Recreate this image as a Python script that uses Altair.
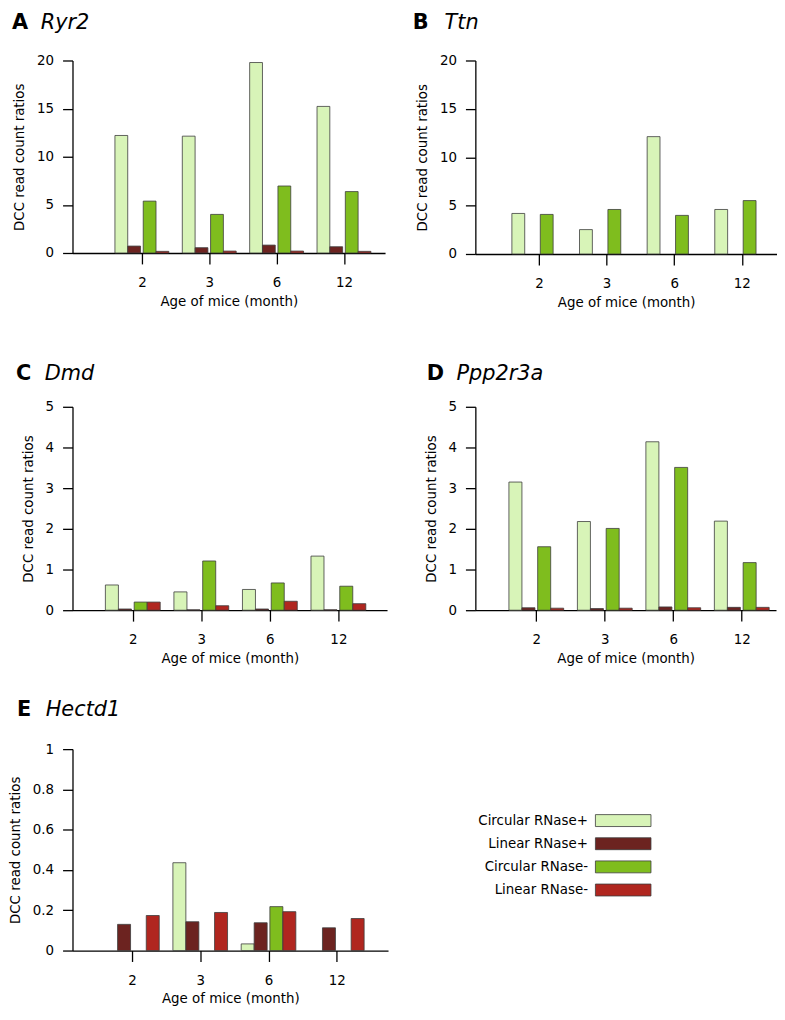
import json
import pandas as pd
import altair as alt

# ---------------- data ----------------
AGES = ["2", "3", "6", "12"]
SERIES = ["Circular RNase+", "Linear RNase+", "Circular RNase-", "Linear RNase-"]
COLORS = ["#d8f4b8", "#6c2320", "#7fbd1e", "#b0261f"]

RYR2_CIRC_POS = [12.21, 12.14, 19.79, 15.23]
RYR2_LIN_POS = [0.72, 0.55, 0.82, 0.65]
RYR2_CIRC_NEG = [5.39, 4.01, 6.96, 6.38]
RYR2_LIN_NEG = [0.17, 0.20, 0.20, 0.17]

TTN_CIRC_POS = [4.19, 2.52, 12.13, 4.60]
TTN_LIN_POS = [0, 0, 0, 0]
TTN_CIRC_NEG = [4.09, 4.60, 3.99, 5.52]
TTN_LIN_NEG = [0, 0, 0, 0]

DMD_CIRC_POS = [0.62, 0.45, 0.51, 1.33]
DMD_LIN_POS = [0.03, 0.01, 0.03, 0.01]
DMD_CIRC_NEG = [0.20, 1.21, 0.67, 0.59]
DMD_LIN_NEG = [0.20, 0.11, 0.22, 0.16]

PPP_CIRC_POS = [3.15, 2.18, 4.14, 2.19]
PPP_LIN_POS = [0.06, 0.04, 0.08, 0.07]
PPP_CIRC_NEG = [1.56, 2.01, 3.51, 1.17]
PPP_LIN_NEG = [0.05, 0.05, 0.06, 0.07]

HEC_CIRC_POS = [0, 0.436, 0.033, 0]
HEC_LIN_POS = [0.130, 0.143, 0.138, 0.113]
HEC_CIRC_NEG = [0, 0, 0.218, 0]
HEC_LIN_NEG = [0.174, 0.189, 0.193, 0.159]

# ---------------- style ----------------
FONT = "DejaVu Sans"
FS = 13.5
BAR_START = [-0.40, -0.21, 0.02, 0.21]   # bar left edge relative to tick, in group units
BAR_W = 0.19


def panel(letter, gene, series_vals, ymax, yvals, xdom, w, h, tdx, tdy, gdx):
    rows = []
    for si, (s, vals) in enumerate(zip(SERIES, series_vals)):
        for ai, v in enumerate(vals):
            rows.append({"pos": ai + 1, "series": s, "sidx": si, "value": v})
    df = pd.DataFrame(rows)
    start = json.dumps(BAR_START)
    bars = (
        alt.Chart(df)
        .transform_filter("datum.value > 0")
        .transform_calculate(
            x0=f"datum.pos + {start}[datum.sidx]",
            x1=f"datum.pos + {start}[datum.sidx] + {BAR_W}",
        )
        .mark_rect(stroke="#3c3c3c", strokeWidth=0.8)
        .encode(
            x=alt.X(
                "x0:Q",
                scale=alt.Scale(domain=xdom, nice=False, zero=False),
                axis=alt.Axis(
                    values=[1, 2, 3, 4],
                    labelExpr=f"{json.dumps(AGES)}[datum.value - 1]",
                    title="Age of mice (month)",
                    tickSize=11,
                    labelPadding=12,
                    titlePadding=5,
                ),
            ),
            x2="x1:Q",
            y=alt.Y(
                "value:Q",
                scale=alt.Scale(domain=[0, ymax], nice=False),
                axis=alt.Axis(
                    values=yvals,
                    format="~g",
                    title="DCC read count ratios",
                    tickSize=10,
                    labelPadding=9,
                    titlePadding=10,
                ),
            ),
            y2=alt.datum(0),
            color=alt.Color(
                "series:N",
                scale=alt.Scale(domain=SERIES, range=COLORS),
                legend=None,
            ),
        )
    )
    tdf = pd.DataFrame({"letter": [letter], "gene": [gene]})
    t1 = (
        alt.Chart(tdf)
        .mark_text(align="left", baseline="middle", fontSize=21, fontWeight="bold", font=FONT)
        .encode(text="letter:N", x=alt.value(tdx), y=alt.value(tdy))
    )
    t2 = (
        alt.Chart(tdf)
        .mark_text(align="left", baseline="middle", fontSize=21, fontStyle="italic", font=FONT)
        .encode(text="gene:N", x=alt.value(gdx), y=alt.value(tdy))
    )
    return alt.layer(bars, t1, t2).properties(width=w, height=h)


A = panel("A", "Ryr2", [RYR2_CIRC_POS, RYR2_LIN_POS, RYR2_CIRC_NEG, RYR2_LIN_NEG],
          20, [0, 5, 10, 15, 20], [-0.03, 4.61], 315, 194, -61, -38, -32)
B = panel("B", "Ttn", [TTN_CIRC_POS, TTN_LIN_POS, TTN_CIRC_NEG, TTN_LIN_NEG],
          20, [0, 5, 10, 15, 20], [0.06, 4.52], 304, 195, -63, -38, -31)
C = panel("C", "Dmd", [DMD_CIRC_POS, DMD_LIN_POS, DMD_CIRC_NEG, DMD_LIN_NEG],
          5, [0, 1, 2, 3, 4, 5], [0.12, 4.71], 317, 205, -57, -33, -28)
D = panel("D", "Ppp2r3a", [PPP_CIRC_POS, PPP_LIN_POS, PPP_CIRC_NEG, PPP_LIN_NEG],
          5, [0, 1, 2, 3, 4, 5], [0.11, 4.50], 303, 205, -49, -33, -19)
E = panel("E", "Hectd1", [HEC_CIRC_POS, HEC_LIN_POS, HEC_CIRC_NEG, HEC_LIN_NEG],
          1, [0, 0.2, 0.4, 0.6, 0.8, 1], [0.13, 4.75], 318, 203, -56, -39, -27)

ldf = pd.DataFrame({"series": SERIES})
legend = (
    alt.Chart(ldf)
    .mark_rect(stroke="#3c3c3c", strokeWidth=0.8)
    .encode(
        y=alt.Y(
            "series:N",
            sort=SERIES,
            scale=alt.Scale(domain=SERIES, range=[66, 148], paddingInner=0.485, paddingOuter=0),
            axis=alt.Axis(title=None, domain=False, ticks=False, labelPadding=8),
        ),
        color=alt.Color("series:N", scale=alt.Scale(domain=SERIES, range=COLORS), legend=None),
    )
    .properties(width=56, height=203)
)

row1 = alt.hconcat(A, B, spacing=28)
row2 = alt.hconcat(C, D, spacing=37)
row3 = alt.hconcat(E, legend, spacing=90)

top = alt.vconcat(row1, row2, spacing=55)

chart = (
    alt.vconcat(top, row3, spacing=35)
    .properties(padding={"left": 0, "top": 0, "right": 0, "bottom": 0})
    .configure(font=FONT)
    .configure_view(stroke=None)
    .configure_axis(
        grid=False,
        domainColor="black",
        domainWidth=1.3,
        tickColor="black",
        tickWidth=1.3,
        labelFontSize=FS,
        titleFontSize=FS,
        titleFontWeight="normal",
        labelColor="black",
        titleColor="black",
        labelFont=FONT,
        titleFont=FONT,
    )
)

chart.save("out.html", embed_options={"renderer": "svg", "actions": False})
